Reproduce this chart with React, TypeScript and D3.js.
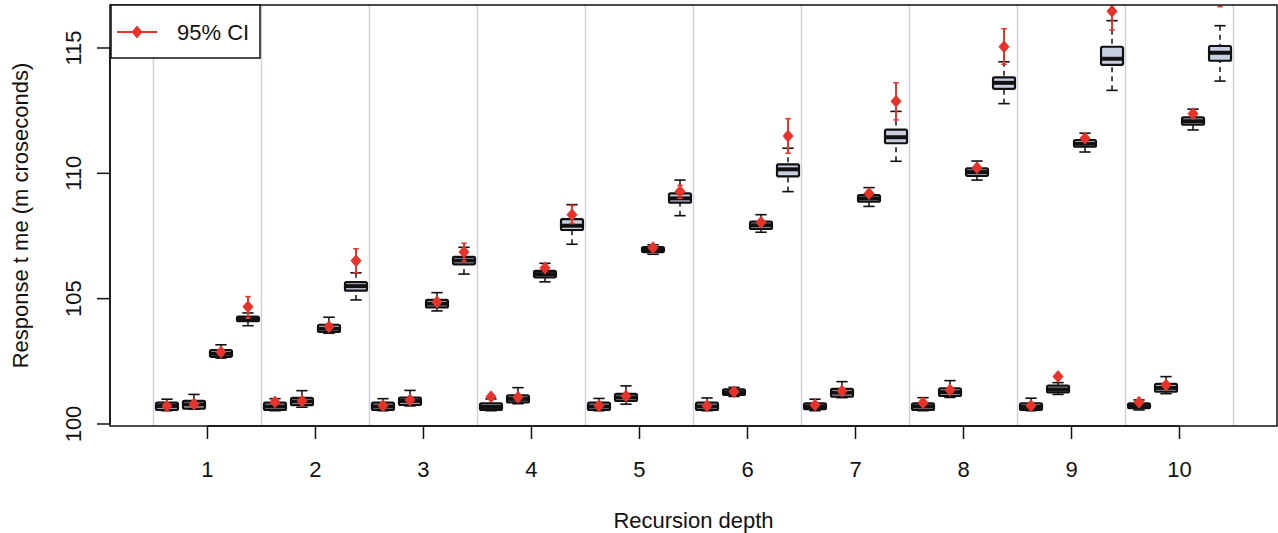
import React from "react";
import * as d3 from "d3";

// ---- data (one entry per box, 4 boxes per recursion depth) ----
const depthLabels = ["1", "2", "3", "4", "5", "6", "7", "8", "9", "10"];
const yTicks = [100, 105, 110, 115];

const whiskerLo = [
  100.53, 100.59, 102.63, 103.92, 100.53, 100.67, 103.62, 104.95, 100.53, 100.72,
  104.51, 105.98, 100.53, 100.81, 105.67, 107.17, 100.53, 100.79, 106.77, 108.31,
  100.53, 101.10, 107.65, 109.27, 100.53, 101.05, 108.68, 110.48, 100.53, 101.06,
  109.73, 112.78, 100.53, 101.18, 110.85, 113.31, 100.56, 101.21, 111.73, 113.68,
];
const q1 = [
  100.56, 100.61, 102.68, 104.10, 100.56, 100.75, 103.67, 105.32, 100.56, 100.76,
  104.65, 106.37, 100.56, 100.86, 105.85, 107.74, 100.56, 100.92, 106.86, 108.83,
  100.56, 101.16, 107.78, 109.88, 100.59, 101.09, 108.87, 111.20, 100.56, 101.12,
  109.90, 113.37, 100.56, 101.26, 111.06, 114.33, 100.63, 101.29, 111.94, 114.49,
];
const median = [
  100.72, 100.78, 102.80, 104.18, 100.70, 100.90, 103.80, 105.50, 100.70, 100.92,
  104.80, 106.52, 100.68, 101.00, 105.98, 107.91, 100.70, 101.06, 106.96, 109.00,
  100.70, 101.26, 107.93, 110.16, 100.70, 101.25, 109.00, 111.44, 100.70, 101.27,
  110.05, 113.61, 100.68, 101.38, 111.18, 114.57, 100.72, 101.44, 112.08, 114.81,
];
const q3 = [
  100.85, 100.92, 102.95, 104.28, 100.85, 101.04, 103.96, 105.66, 100.85, 101.05,
  104.95, 106.67, 100.82, 101.14, 106.11, 108.17, 100.85, 101.20, 107.06, 109.20,
  100.85, 101.38, 108.07, 110.36, 100.82, 101.40, 109.13, 111.74, 100.82, 101.42,
  110.20, 113.83, 100.82, 101.53, 111.33, 115.05, 100.82, 101.60, 112.23, 115.08,
];
const whiskerHi = [
  100.99, 101.18, 103.16, 104.43, 101.01, 101.33, 104.26, 106.03, 101.01, 101.34,
  105.24, 107.05, 101.00, 101.45, 106.41, 108.75, 101.02, 101.52, 107.15, 109.73,
  101.04, 101.46, 108.35, 111.00, 100.99, 101.69, 109.43, 112.47, 101.05, 101.73,
  110.49, 114.45, 101.03, 101.65, 111.60, 116.09, 100.96, 101.89, 112.56, 115.89,
];
const ciMean = [
  100.72, 100.80, 102.87, 104.68, 100.88, 100.92, 103.88, 106.51, 100.73, 100.96,
  104.87, 106.86, 101.09, 101.07, 106.22, 108.35, 100.73, 101.12, 107.03, 109.27,
  100.73, 101.29, 108.05, 111.49, 100.76, 101.32, 109.20, 112.88, 100.85, 101.36,
  110.22, 115.05, 100.73, 101.89, 111.40, 116.47, 100.87, 101.56, 112.38, 117.30,
];
const ciLo = [
  100.66, 100.74, 102.81, 104.22, 100.82, 100.86, 103.82, 106.03, 100.67, 100.90,
  104.81, 106.49, 101.03, 101.01, 106.16, 108.00, 100.67, 101.06, 106.97, 109.00,
  100.67, 101.23, 107.99, 110.80, 100.70, 101.26, 109.14, 112.13, 100.79, 101.30,
  110.16, 114.35, 100.67, 101.83, 111.34, 115.72, 100.81, 101.50, 112.32, 116.65,
];
const ciHi = [
  100.78, 100.86, 102.93, 105.08, 100.94, 100.98, 103.94, 106.99, 100.79, 101.02,
  104.93, 107.21, 101.15, 101.13, 106.28, 108.72, 100.79, 101.18, 107.09, 109.52,
  100.79, 101.35, 108.11, 112.18, 100.82, 101.38, 109.26, 113.61, 100.91, 101.42,
  110.28, 115.77, 100.79, 101.95, 111.46, 117.22, 100.93, 101.62, 112.44, 117.95,
];

const W = 1278;
const H = 533;
const plot = { left: 110, right: 1277, top: 5, bottom: 426 };
const FONT = "'Liberation Sans', Arial, Helvetica, sans-serif";
const FS = 22;
const RED = "#e8332b";
const BOXFILL = "#c7cfe0";
const SEP = "#c9d3e6";

export default function App() {
  const x = d3.scaleLinear().domain([-1.11, 42.11]).range([plot.left, plot.right]);
  const y = d3.scaleLinear().domain([99.92, 116.715]).range([plot.bottom, plot.top]);
  const n = median.length;
  const idx = d3.range(n);
  const halfBox = 0.407;
  const halfCap = 0.21;
  const halfCi = 0.1;
  const sepPositions = d3.range(0, n + 1, 4).map((k) => k + 0.5);
  const tickPositions = depthLabels.map((_, g) => g * 4 + 2.5);
  const diamond = (cx: number, cy: number, rw = 5.5, rh = 6.5) =>
    `M${cx},${cy - rh}L${cx + rw},${cy}L${cx},${cy + rh}L${cx - rw},${cy}Z`;

  return (
    <svg
      width={W}
      height={H}
      style={{ position: "fixed", left: 0, top: 0, background: "#fff" }}
      fontFamily={FONT}
    >
      <defs>
        <clipPath id="plotclip">
          <rect x={plot.left} y={plot.top} width={plot.right - plot.left} height={plot.bottom - plot.top} />
        </clipPath>
      </defs>
      <rect x={0} y={0} width={W} height={H} fill="#fff" />

      {/* separators */}
      {sepPositions.map((p) => (
        <line key={"s" + p} x1={x(p)} x2={x(p)} y1={plot.top} y2={plot.bottom} stroke={SEP} strokeWidth={1.5} />
      ))}

      <g clipPath="url(#plotclip)">
        {/* boxes */}
        {idx.map((i) => {
          const p = i + 1;
          const cx = x(p);
          const bw = x(p + halfBox) - x(p - halfBox);
          const cw = x(p + halfCap) - x(p - halfCap);
          return (
            <g key={"b" + i}>
              <line x1={cx} x2={cx} y1={y(whiskerLo[i])} y2={y(q1[i])} stroke="#111" strokeWidth={1.5} strokeDasharray="5,4" />
              <line x1={cx} x2={cx} y1={y(whiskerHi[i])} y2={y(q3[i])} stroke="#111" strokeWidth={1.5} strokeDasharray="5,4" />
              <line x1={cx - cw / 2} x2={cx + cw / 2} y1={y(whiskerLo[i])} y2={y(whiskerLo[i])} stroke="#111" strokeWidth={1.6} />
              <line x1={cx - cw / 2} x2={cx + cw / 2} y1={y(whiskerHi[i])} y2={y(whiskerHi[i])} stroke="#111" strokeWidth={1.6} />
              <rect
                x={cx - bw / 2}
                y={y(q3[i])}
                width={bw}
                height={y(q1[i]) - y(q3[i])}
                fill={BOXFILL}
                stroke="#111"
                strokeWidth={2.2}
                strokeLinejoin="round"
                rx={1.5}
              />
              <line x1={cx - bw / 2} x2={cx + bw / 2} y1={y(median[i])} y2={y(median[i])} stroke="#111" strokeWidth={4} />
            </g>
          );
        })}

        {/* confidence intervals */}
        {idx.map((i) => {
          const p = i + 1;
          const cx = x(p);
          const cw = x(p + halfCi) - x(p - halfCi);
          return (
            <g key={"c" + i}>
              <line x1={cx} x2={cx} y1={y(ciLo[i])} y2={y(ciHi[i])} stroke={RED} strokeWidth={2} />
              <line x1={cx - cw / 2} x2={cx + cw / 2} y1={y(ciLo[i])} y2={y(ciLo[i])} stroke={RED} strokeWidth={1.6} />
              <line x1={cx - cw / 2} x2={cx + cw / 2} y1={y(ciHi[i])} y2={y(ciHi[i])} stroke={RED} strokeWidth={1.6} />
              <path d={diamond(cx, y(ciMean[i]))} fill={RED} />
            </g>
          );
        })}
      </g>

      {/* plot frame */}
      <rect
        x={plot.left}
        y={plot.top}
        width={plot.right - plot.left}
        height={plot.bottom - plot.top}
        fill="none"
        stroke="#111"
        strokeWidth={1.5}
      />

      {/* y axis */}
      <line x1={plot.left} x2={plot.left} y1={y(yTicks[0])} y2={y(yTicks[yTicks.length - 1])} stroke="#111" strokeWidth={1.5} />
      {yTicks.map((t) => (
        <g key={"yt" + t}>
          <line x1={plot.left - 13} x2={plot.left} y1={y(t)} y2={y(t)} stroke="#111" strokeWidth={1.5} />
          <text
            transform={`translate(${81},${y(t)}) rotate(-90)`}
            textAnchor="middle"
            fontSize={FS}
            fill="#111"
          >
            {t}
          </text>
        </g>
      ))}

      {/* x axis */}
      <line x1={x(tickPositions[0])} x2={x(tickPositions[tickPositions.length - 1])} y1={plot.bottom} y2={plot.bottom} stroke="#111" strokeWidth={1.5} />
      {tickPositions.map((p, g) => (
        <g key={"xt" + g}>
          <line x1={x(p)} x2={x(p)} y1={plot.bottom} y2={plot.bottom + 13} stroke="#111" strokeWidth={1.5} />
          <text x={x(p)} y={477} textAnchor="middle" fontSize={FS} fill="#111">
            {depthLabels[g]}
          </text>
        </g>
      ))}

      {/* axis titles */}
      <text x={(plot.left + plot.right) / 2} y={528} textAnchor="middle" fontSize={FS} fill="#111">
        Recursion depth
      </text>
      <text
        transform={`translate(${28},${(plot.top + plot.bottom) / 2}) rotate(-90)`}
        textAnchor="middle"
        fontSize={FS}
        fill="#111"
      >
        Response t me (m croseconds)
      </text>

      {/* legend */}
      <rect x={111} y={5} width={149} height={53} fill="#fff" stroke="#111" strokeWidth={1.5} />
      <line x1={117} x2={157} y1={32} y2={32} stroke={RED} strokeWidth={2} />
      <path d={diamond(137, 32)} fill={RED} />
      <text x={177} y={40} fontSize={FS} fill="#111">
        95% CI
      </text>
    </svg>
  );
}
